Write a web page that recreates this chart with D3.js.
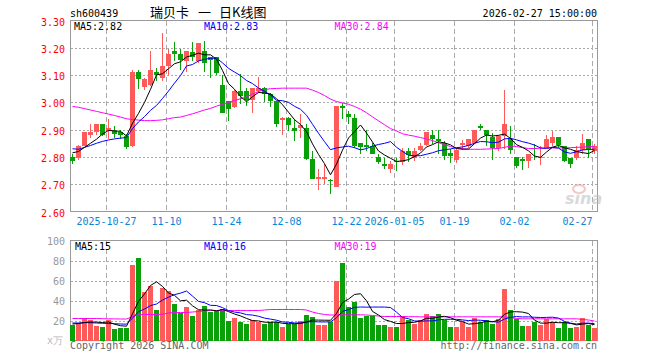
<!DOCTYPE html>
<html lang="zh">
<head>
<meta charset="UTF-8">
<title>瑞贝卡 日K线图</title>
<style>
  body { margin: 0; background: #fff; }
  text { font-family: "DejaVu Sans Mono", monospace; font-size: 10px; }
  .cn { font-family: "Noto Sans CJK SC", sans-serif; font-size: 13px; }
</style>
</head>
<body>
<div id="chart"></div>
<script src="https://cdn.jsdelivr.net/npm/d3@7"></script>
<script>
// 交易日
const dates = ['10-17', '10-20', '10-21', '10-22', '10-23', '10-24', '10-27', '10-28', '10-29', '10-30', '10-31',
  '11-03', '11-04', '11-05', '11-06', '11-07', '11-10', '11-11', '11-12', '11-13', '11-14',
  '11-17', '11-18', '11-19', '11-20', '11-21', '11-24', '11-25', '11-26', '11-27', '11-28',
  '12-01', '12-02', '12-03', '12-04', '12-05', '12-08', '12-09', '12-10', '12-11', '12-12',
  '12-15', '12-16', '12-17', '12-18', '12-19', '12-22', '12-23', '12-24', '12-25', '12-26',
  '12-29', '12-30', '12-31', '01-05', '01-06', '01-07', '01-08', '01-09',
  '01-12', '01-13', '01-14', '01-15', '01-16', '01-19', '01-20', '01-21', '01-22', '01-23',
  '01-26', '01-27', '01-28', '01-29', '01-30', '02-02', '02-03', '02-04', '02-05', '02-06',
  '02-09', '02-10', '02-11', '02-12', '02-13', '02-24', '02-25', '02-26', '02-27']

const opens = [2.80, 2.795, 2.84, 2.88, 2.89, 2.92, 2.895, 2.895, 2.893, 2.878,
  2.84, 3.113, 3.055, 3.065, 3.11, 3.09, 3.134, 3.19, 3.177, 3.15,
  3.186, 3.152, 3.187, 3.167, 3.167, 3.064, 3.005, 2.983, 3.042, 3.042,
  3.008, 3.042, 3.054, 3.032, 3.005, 2.934, 2.944, 2.905, 2.905, 2.905,
  2.791, 2.72, 2.72, 2.716, 2.69, 2.985, 2.956, 2.944, 2.852, 2.842,
  2.84, 2.80, 2.773, 2.755, 2.785, 2.783, 2.822, 2.797, 2.824, 2.844,
  2.88, 2.864, 2.852, 2.813, 2.79, 2.842, 2.84, 2.852, 2.914, 2.90,
  2.873, 2.834, 2.877, 2.866, 2.80, 2.791, 2.785, 2.834, 2.795, 2.834,
  2.852, 2.873, 2.84, 2.795, 2.795, 2.824, 2.866, 2.822]
const highs = [2.81, 2.845, 2.89, 2.92, 2.92, 2.92, 2.94, 2.915, 2.90, 2.885,
  3.12, 3.12, 3.09, 3.19, 3.125, 3.256, 3.195, 3.22, 3.195, 3.19,
  3.22, 3.216, 3.226, 3.167, 3.167, 3.10, 3.005, 3.045, 3.105, 3.054,
  3.054, 3.094, 3.055, 3.033, 3.005, 2.945, 2.945, 2.94, 2.956, 2.922,
  2.822, 2.755, 2.773, 2.718, 2.985, 2.999, 2.97, 2.956, 2.852, 2.90,
  2.852, 2.81, 2.797, 2.785, 2.797, 2.834, 2.834, 2.834, 2.852, 2.891,
  2.90, 2.90, 2.859, 2.828, 2.834, 2.861, 2.864, 2.90, 2.922, 2.90,
  2.889, 2.88, 3.044, 2.914, 2.80, 2.80, 2.812, 2.846, 2.84, 2.88,
  2.895, 2.873, 2.84, 2.795, 2.84, 2.883, 2.866, 2.846]
const lows = [2.775, 2.79, 2.84, 2.87, 2.88, 2.875, 2.865, 2.87, 2.865, 2.83,
  2.835, 3.05, 3.045, 3.06, 3.08, 3.08, 3.10, 3.15, 3.12, 3.11,
  3.152, 3.146, 3.11, 3.09, 3.10, 2.962, 2.932, 2.98, 2.993, 2.987,
  2.962, 3.036, 3.0, 2.983, 2.91, 2.88, 2.895, 2.86, 2.87, 2.79,
  2.718, 2.677, 2.70, 2.663, 2.688, 2.938, 2.922, 2.834, 2.81, 2.822,
  2.81, 2.773, 2.755, 2.74, 2.75, 2.77, 2.78, 2.785, 2.822, 2.84,
  2.846, 2.81, 2.79, 2.779, 2.779, 2.824, 2.832, 2.852, 2.90, 2.84,
  2.79, 2.822, 2.828, 2.81, 2.761, 2.751, 2.758, 2.79, 2.77, 2.832,
  2.84, 2.834, 2.783, 2.758, 2.79, 2.812, 2.797, 2.81]
const closes = [2.785, 2.84, 2.89, 2.89, 2.92, 2.88, 2.905, 2.883, 2.88, 2.836,
  3.113, 3.085, 3.085, 3.12, 3.10, 3.134, 3.177, 3.177, 3.155, 3.187,
  3.167, 3.216, 3.146, 3.155, 3.106, 2.962, 2.975, 3.042, 3.024, 3.008,
  3.054, 3.054, 3.032, 3.005, 2.922, 2.944, 2.917, 2.895, 2.916, 2.791,
  2.72, 2.725, 2.725, 2.712, 2.985, 2.978, 2.947, 2.84, 2.836, 2.838,
  2.812, 2.783, 2.767, 2.775, 2.78, 2.822, 2.807, 2.822, 2.84, 2.891,
  2.865, 2.859, 2.803, 2.803, 2.824, 2.852, 2.864, 2.90, 2.905, 2.88,
  2.834, 2.877, 2.922, 2.825, 2.767, 2.785, 2.812, 2.828, 2.80, 2.865,
  2.873, 2.844, 2.785, 2.773, 2.824, 2.852, 2.828, 2.84]
// 成交量 (万手)
const volumes = [16, 17.5, 23, 20.5, 15, 14, 20.5, 11.5, 13, 12.5,
  76, 83, 48.5, 55, 31, 53, 50, 37, 27.5, 34,
  25, 30.5, 35, 28.5, 29.5, 31.5, 20, 23, 19, 17,
  20.5, 18.5, 16.5, 18.5, 18.5, 14, 16.5, 16.5, 19.5, 26,
  24, 16, 16, 19, 60, 78, 34, 39, 23, 24.5,
  25, 16, 16, 14, 14, 25, 21, 17, 21, 27,
  25, 27, 21, 14, 14, 19, 14, 23, 18.5, 21,
  17, 22, 52, 31, 22, 15, 15, 19, 16, 22,
  19, 13, 19, 13, 14, 23, 16, 13]

// 均线: 开头几天用图上读数, MA30 全部读图
const ma5Head = [2.815, 2.82, 2.835, 2.85]
const ma10Head = [2.83, 2.828, 2.835, 2.842, 2.85, 2.857, 2.862, 2.866, 2.869]
const ma30 = [2.985, 2.982, 2.977, 2.972, 2.967, 2.962, 2.957, 2.952, 2.946, 2.94,
  2.937, 2.935, 2.933, 2.933, 2.934, 2.936, 2.94, 2.944, 2.946, 2.952,
  2.958, 2.965, 2.972, 2.978, 2.986, 2.993, 3.0, 3.007, 3.013, 3.02,
  3.03, 3.04, 3.047, 3.05, 3.051, 3.052, 3.052, 3.052, 3.052, 3.052,
  3.045, 3.036, 3.025, 3.012, 3.003, 2.998, 2.993, 2.985, 2.975, 2.962,
  2.947, 2.932, 2.918, 2.904, 2.895, 2.885, 2.88, 2.876, 2.871, 2.866,
  2.86, 2.852, 2.845, 2.838, 2.833, 2.83, 2.828, 2.828, 2.828, 2.829,
  2.83, 2.831, 2.835, 2.84, 2.838, 2.834, 2.831, 2.831, 2.832, 2.832,
  2.833, 2.833, 2.833, 2.834, 2.835, 2.836, 2.837, 2.839]
const volMa5Head = [16.5, 17, 18, 18.5]
const volMa10Head = [17.5, 17.5, 17.8, 17.8, 17.5, 17.2, 17, 16.8, 16.5]
const volMa30 = [22, 22, 22, 22, 22, 21.8, 21.7, 21.6, 21.5, 21.5,
  24, 25.7, 26, 26, 26, 26.3, 27.5, 28, 28, 28,
  28.5, 29, 29.5, 30, 30, 30, 30, 30, 30, 30,
  30, 30, 30.5, 31, 31, 31, 31, 31, 31, 30.5,
  28.5, 27, 26, 25.5, 25.5, 25.7, 25.7, 25.7, 25.7, 25.5,
  25, 24.5, 24, 24, 24, 24, 23.8, 23.8, 23.7, 23.7,
  23.7, 23.7, 23.7, 23.7, 23.7, 23.7, 23.7, 23.7, 23.7, 23.7,
  23.7, 23.7, 23.7, 23, 22, 21.7, 21.7, 21.7, 21.7, 21.7,
  21.7, 21.7, 21.7, 21.7, 21.7, 21, 20.5, 19.5]

const tickDates = ['10-27', '11-10', '11-24', '12-08', '12-22', '01-05', '01-19', '02-02', '02-27']
const tickLabels = ['2025-10-27', '11-10', '11-24', '12-08', '12-22', '2026-01-05', '01-19', '02-02', '02-27']
const priceTicks = [3.3, 3.2, 3.1, 3.0, 2.9, 2.8, 2.7, 2.6]
const volTicks = [100, 80, 60, 40, 20]
const priceLegend = ['MA5:2.82', 'MA10:2.83', 'MA30:2.84']
const volLegend = ['MA5:15', 'MA10:16', 'MA30:19']

const red = '#ff5a5a'
const green = '#0aa00a'
const maColors = ['#000', '#0000ff', '#ff00ff']
const gridColor = '#aaa'

const width = 660
const height = 360
const left = 70.5
const right = 597.5
const pTop = 20.5
const pBottom = 211.5
const vTop = 240.5
const vBottom = 340.5

const svg = d3.select('#chart').append('svg').attr('width', width).attr('height', height)
svg.append('rect').attr('width', width).attr('height', height).attr('fill', '#fff')

// 比例尺
const x = d3.scaleBand().domain(dates).range([69.5, 69.5 + 6 * dates.length])
const cx = d => x(d) + 3
const y = d3.scaleLinear().domain([2.6, 3.3]).range([pBottom, pTop])
const yv = d3.scaleLinear().domain([0, 100]).range([vBottom, vTop])

function movingAvg (vals, n, head) {
  return vals.map((v, i) => i < n - 1 ? head[i] : d3.mean(vals.slice(i - n + 1, i + 1)))
}
const ma5 = movingAvg(closes, 5, ma5Head)
const ma10 = movingAvg(closes, 10, ma10Head)
const volMa5 = movingAvg(volumes, 5, volMa5Head)
const volMa10 = movingAvg(volumes, 10, volMa10Head)

// 标题
svg.append('text').text('sh600439').attr('x', 70).attr('y', 16.5).attr('fill', '#000')
const title = svg.append('text').attr('class', 'cn').attr('y', 17).attr('fill', '#000')
title.append('tspan').attr('x', 150).text('瑞贝卡')
title.append('tspan').attr('x', 198).text('一')
title.append('tspan').attr('x', 219).text('日K线图')
svg.append('text').text('2026-02-27 15:00:00').attr('x', 597).attr('y', 16.5)
  .attr('text-anchor', 'end').attr('fill', '#000')

// 网格
function drawGrid (top, bottom, yScale, levels) {
  const g = svg.append('g').attr('shape-rendering', 'crispEdges')
  g.selectAll('line.h').data(levels).join('line')
    .attr('x1', left).attr('x2', right)
    .attr('y1', d => Math.round(yScale(d)) + 0.5).attr('y2', d => Math.round(yScale(d)) + 0.5)
    .attr('stroke', gridColor).attr('stroke-dasharray', '2,2')
  g.selectAll('line.v').data(tickDates).join('line')
    .attr('x1', d => Math.floor(x(d) + 1) + 0.5).attr('x2', d => Math.floor(x(d) + 1) + 0.5)
    .attr('y1', top).attr('y2', bottom)
    .attr('stroke', gridColor).attr('stroke-dasharray', '5,3')
  g.append('rect').attr('x', left).attr('y', top).attr('width', right - left).attr('height', bottom - top)
    .attr('fill', 'none').attr('stroke', '#999')
}
drawGrid(pTop, pBottom, y, priceTicks.slice(1, -1))
drawGrid(vTop, vBottom, yv, volTicks.slice(1))

// 新浪水印
const logo = svg.append('g').attr('opacity', 0.55)
logo.append('ellipse').attr('cx', 579).attr('cy', 189).attr('rx', 6).attr('ry', 4)
  .attr('fill', 'none').attr('stroke', '#e99').attr('stroke-width', 2)
logo.append('text').text('sina').attr('x', 565).attr('y', 204)
  .attr('style', 'font-family: "DejaVu Sans"; font-size: 16px; font-style: italic; font-weight: bold;')
  .attr('fill', '#bbb')

// 坐标轴
const yAxis = d3.axisLeft(y).tickValues(priceTicks).tickSize(0).tickPadding(5).tickFormat(d3.format('.2f'))
svg.append('g').attr('transform', `translate(70,0)`).call(yAxis)
  .call(g => g.select('.domain').remove())
  .call(g => g.selectAll('text').attr('fill', '#f00').attr('dy', 4.5))

const vAxis = d3.axisLeft(yv).tickValues(volTicks).tickSize(0).tickPadding(5)
svg.append('g').attr('transform', `translate(70,0)`).call(vAxis)
  .call(g => g.select('.domain').remove())
  .call(g => g.selectAll('text').attr('fill', '#999').attr('dy', 3.5))

const xAxis = d3.axisBottom(x).tickValues(tickDates).tickSize(0)
  .tickFormat(d => tickLabels[tickDates.indexOf(d)])
svg.append('g').attr('transform', `translate(-2,${pBottom})`).call(xAxis)
  .call(g => g.select('.domain').remove())
  .call(g => g.selectAll('text').attr('fill', '#0a84d6').attr('y', 13.5).attr('dy', 0))
  .call(g => g.selectAll('.tick:last-child text').attr('text-anchor', 'end').attr('x', 0))

// K线
const isUp = i => closes[i] >= opens[i]
const candles = svg.append('g').attr('shape-rendering', 'crispEdges')
candles.selectAll('line').data(dates).join('line')
  .attr('x1', d => cx(d)).attr('x2', d => cx(d))
  .attr('y1', (d, i) => y(highs[i])).attr('y2', (d, i) => y(lows[i]))
  .attr('stroke', (d, i) => isUp(i) ? red : green)
candles.selectAll('rect').data(dates).join('rect')
  .attr('x', d => cx(d) - 2.5).attr('width', 5)
  .attr('y', (d, i) => y(Math.max(opens[i], closes[i])))
  .attr('height', (d, i) => Math.max(1, Math.abs(y(opens[i]) - y(closes[i]))))
  .attr('fill', (d, i) => isUp(i) ? red : green)

// 成交量
svg.append('g').attr('shape-rendering', 'crispEdges')
  .selectAll('rect').data(dates).join('rect')
  .attr('x', d => cx(d) - 2.5).attr('width', 5)
  .attr('y', (d, i) => yv(volumes[i]))
  .attr('height', (d, i) => yv(0) - yv(volumes[i]))
  .attr('fill', (d, i) => isUp(i) ? red : green)

// 均线
function drawLine (vals, scale, color) {
  svg.append('path')
    .attr('d', d3.line().x((v, i) => cx(dates[i])).y(v => scale(v))(vals))
    .attr('fill', 'none').attr('stroke', color).attr('stroke-width', 1)
}
drawLine(ma30, y, maColors[2])
drawLine(ma10, y, maColors[1])
drawLine(ma5, y, maColors[0])
drawLine(volMa30, yv, maColors[2])
drawLine(volMa10, yv, maColors[1])
drawLine(volMa5, yv, maColors[0])

// 图例
const legendX = [74, 204, 334.5]
priceLegend.forEach((t, i) => {
  svg.append('text').text(t).attr('x', legendX[i]).attr('y', 30).attr('fill', maColors[i])
})
volLegend.forEach((t, i) => {
  svg.append('text').text(t).attr('x', legendX[i] + (i === 0 ? 1 : 0)).attr('y', 250).attr('fill', maColors[i])
})

// 底部
svg.append('text').text('x万').attr('x', 63).attr('y', 344).attr('text-anchor', 'end').attr('fill', '#bbb')
svg.append('text').text('Copyright 2026 SINA.COM').attr('x', 70).attr('y', 349).attr('fill', '#666')
svg.append('text').text('http://finance.sina.com.cn').attr('x', 597).attr('y', 349)
  .attr('text-anchor', 'end').attr('fill', '#666')
</script>
</body>
</html>
